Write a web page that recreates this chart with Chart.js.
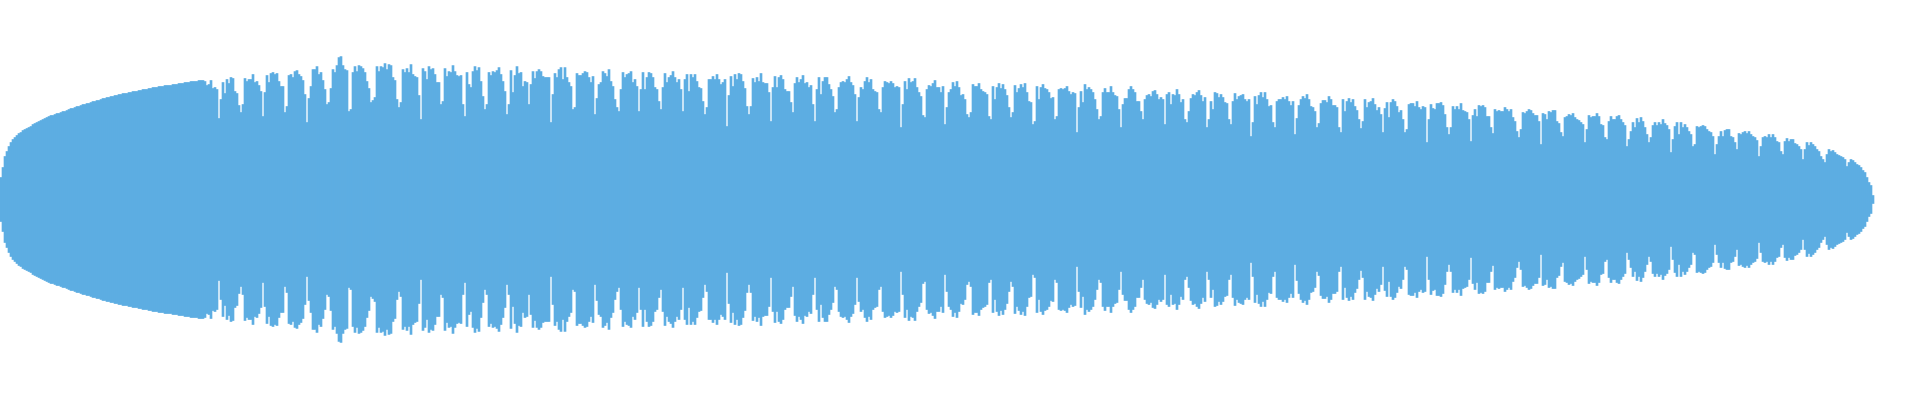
<!DOCTYPE html>
<html>
<head>
<meta charset="utf-8">
<script src="https://cdn.jsdelivr.net/npm/chart.js@4/dist/chart.umd.min.js"></script>
<style>
  html, body { margin: 0; padding: 0; background: #ffffff; }
  #wrap { width: 1920px; height: 400px; }
</style>
</head>
<body>
<div id="wrap"><canvas id="wave" width="1920" height="400"></canvas></div>
<script>
// peak amplitude per 2px column
const introRamp = [
  22,32,43,48,53,57,60,62,64,66, 67,69,70,71,72,73,75,76,77,78,
  79,80,81,82,83,84,84,85,86,86, 87,88,88,89,90,91,91,92,93,93,
  94,95,95,96,96,97,98,98,99,99, 100,101,101,102,102,103,103,104,104,105,
  105,106,106,106,107,107,108,108,108,109, 109,110,110,110,111,111,112,112,112,113,
  113,113,114,114,114,114,115,115,115,116, 116,116,117,117,117,118,118,118,118,119,
  119,119
];
const waveA = [
  118,114,115,119,111,112,110,81,100,117, 106,120,116,122,121,108,106,94,87,95,
  121,118,120,120,125,117,118,114,108,83, 107,124,117,126,127,125,126,118,113,113,
  87,93,124,125,122,128,129,125,123,119, 105,77,101,113,130,130,133,125,127,119,
  110,95,97,111,130,127,134,142,143,134, 130,129,88,90,127,133,128,134,133,131,
  127,118,111,97,99,102
];
const waveB = [
  133,128,133,132,136,130,135,134,122,119, 100,92,97,130,127,131,127,135,125,123,
  122,104,80,131,128,120,133,130,131,125, 117,117,95,98,131,123,128,127,134,128,
  124,123,124,95,83,127,115,112,128,133, 129,132,118,103,90,95,127,124,128,127,
  129,132,125,118,108,85,95,129,107,124, 133,126,127,113,118,117,95,115,128,121,
  128,130,128,123,122,122,122
];
const waveC = [
  77,105,126,122,130,132,120,132,122,117, 113,90,92,126,124,124,126,128,127,122,
  117,123,85,101,115,117,128,126,123,130, 118,113,100,92,88,110,127,122,125,126,
  128,117,120,113,88,110,127,110,122,127, 126,122,112,110,98,90,112,126,117,122,
  124,128,122,117,120,110,88,120,125,108, 125,122,125,118,112,111,98,85,92,120,
  120,123,120,125,120,115,117,120
];
const waveD = [
  73,104,123,113,125,120,126,125,118,111, 93,85,93,121,117,122,118,126,117,116,
  116,107,78,112,123,112,122,124,120,110, 108,108,97,87,116,122,117,120,124,116,
  117,112,114,95,78,110,122,105,118,122, 122,115,110,103,87,90,112,117,118,117,
  120,123,117,114,105,78,102,112,110,118, 122,117,120,110,108,107,90,87,112,118,
  117,116,118,116,112,113,112
];
const waveE = [
  72,95,118,110,121,117,118,121,112,107, 103,84,82,110,114,113,116,119,112,112,
  107,113,75,92,107,110,117,113,118,112, 104,105,100,85,82,87,115,113,113,116,
  110,108,107,105,83,80,113,100,112,116, 111,115,110,104,92,82,87,114,107,111,
  115,112,116,107,98,97,75,78,113,100, 112,115,111,110,107,101,102,80,83,110,
  111,110,111,113,108,105,107,106
];
const waveF = [
  67,92,108,97,115,110,112,110,107,100, 90,80,83,107,111,107,107,113,107,104,
  103,90,72,95,101,101,110,113,110,107, 98,98,88,80,100,104,105,103,108,109,
  105,100,102,100,75,105,107,95,105,104, 110,105,97,100,80,77,88,101,105,104,
  107,109,104,98,102,72,80,98,90,107, 106,102,105,102,97,96,80,75,98,106,
  100,103,104,105,100,98,100
];
const waveG = [
  63,77,103,95,104,107,102,107,100,93, 94,77,72,98,100,100,102,100,103,98,
  94,98,65,81,94,100,103,101,105,100, 93,92,88,72,76,96,99,99,97,103,
  100,94,94,92,72,67,100,88,98,101, 97,100,93,89,80,71,78,100,92,97,
  98,101,95,89,92,85,67,91,97,82, 97,100,98,93,87,89,80,67,70,95,
  96,96,93,98,92,90,93,92
];
const waveH = [
  57,80,95,91,90,96,96,97,94,85, 72,65,72,93,90,93,90,96,89,88,
  87,80,58,84,90,83,94,93,94,92, 83,83,72,66,90,88,89,88,88,92,
  90,88,90,82,78,68,62,70,87,86, 88,90,89,86,84,84,78,55,86,85,
  80,88,87,89,89,78,76,67,63,82, 83,85,84,86,82,80,79,77,75,57,
  70,84,82,83,83,86,83
];
const outroTail = [
  75,74,62,60,78,83,80,80,83,84, 80,77,74,53,60,68,77,72,81,77,
  82,78,72,65,57,62,74,77,74,77, 75,80,76,74,70,47,60,73,77,65,
  77,72,75,72,68,65,53,55,73,72, 73,74,73,70,68,67,63,45,55,63,
  68,63,69,70,70,63,62,57,50,66, 65,67,68,66,68,65,63,62,59,43,
  53,62,63,62,65,62,65,62,58,57, 48,45,58,61,58,60,60,56,55,53,
  50,40,50,57,54,57,55,53,50,48, 43,40,37,45,50,48,49,47,45,44,
  43,42,40,33,37,40,39,37,35,34, 32,29,27,22,17,14,4
];

const columnCount = 960;
const amplitude = [].concat(introRamp, waveA, waveB, waveC, waveD, waveE, waveF, waveG, waveH, outroTail);
const labels = Array.from({ length: columnCount }, (_, i) => i);
const bars = labels.map(i => (i < amplitude.length ? [-amplitude[i], amplitude[i]] : null));

new Chart(document.getElementById('wave'), {
  type: 'bar',
  data: {
    labels: labels,
    datasets: [{
      data: bars,
      backgroundColor: '#5dade2',
      borderWidth: 0,
      barPercentage: 1,
      categoryPercentage: 1
    }]
  },
  options: {
    responsive: false,
    animation: false,
    layout: { padding: 0 },
    plugins: {
      legend: { display: false },
      tooltip: { enabled: false }
    },
    scales: {
      x: { display: false },
      y: { display: false, min: -200.5, max: 199.5 }
    }
  }
});
</script>
</body>
</html>
